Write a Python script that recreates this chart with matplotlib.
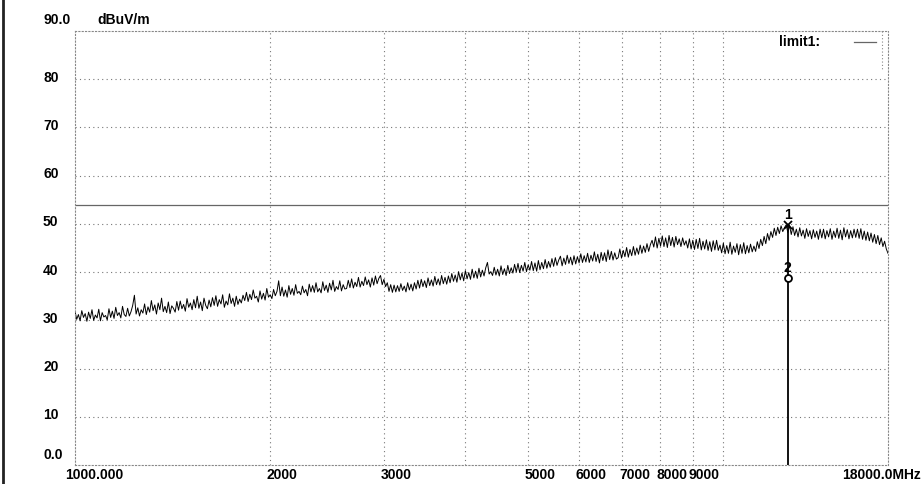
import numpy as np
import matplotlib
matplotlib.use("Agg")
import matplotlib.pyplot as plt
import matplotlib.transforms as mtransforms

# ---------------- data ----------------
f_start, f_stop = 1000.0, 18000.0
y_ticks = [10, 20, 30, 40, 50, 60, 70, 80]
y_tick_labels = ["10", "20", "30", "40", "50", "60", "70", "80"]
x_grid = [2000, 3000, 4000, 5000, 6000, 7000, 8000, 9000, 10000]
x_label_freqs = [2000, 3000, 5000, 6000, 7000, 8000, 9000]
x_label_texts = ["2000", "3000", "5000", "6000", "7000", "8000", "9000"]
limit_level = 54.0
marker1 = (12600.0, 49.8)
marker2 = (12600.0, 38.8)

trace_db = [
    31.9, 30.2, 31.2, 29.9, 32.0, 30.6, 31.4, 29.8, 31.7, 30.4, 32.2, 30.0, 31.1, 30.5, 32.3, 29.9, 31.6, 30.7, 31.0, 30.1,
    32.4, 30.6, 31.9, 30.4, 32.7, 31.0, 31.6, 30.5, 32.9, 31.2, 30.8, 32.5, 30.9, 31.8, 33.1, 35.2, 31.3, 32.6, 30.9, 32.2,
    31.5, 33.4, 31.2, 32.8, 31.7, 34.1, 32.0, 33.2, 31.3, 33.6, 32.2, 34.6, 31.8, 32.9, 31.6, 33.8, 31.4, 33.0, 32.5, 31.7,
    33.9, 32.1, 34.0, 32.4, 33.3, 31.9, 34.5, 32.7, 33.6, 32.2, 34.3, 32.6, 35.0, 32.5, 33.8, 32.0, 34.6, 33.1, 32.4, 34.2,
    32.8, 34.7, 33.1, 35.1, 32.9, 34.3, 33.4, 35.3, 32.7, 34.0, 33.2, 35.5, 33.5, 34.6, 32.9, 35.0, 33.3, 34.4, 33.6, 35.2,
    34.1, 35.8, 33.9, 35.4, 34.3, 36.3, 34.6, 35.0, 33.8, 36.1, 34.4, 35.6, 34.2, 36.6, 34.8, 35.3, 34.5, 36.4, 35.1, 36.0,
    38.2, 35.1, 36.9, 35.0, 36.3, 34.8, 37.2, 35.4, 36.6, 35.2, 37.4, 35.6, 36.0, 35.3, 37.1, 35.7, 36.4, 35.1, 37.5, 35.9,
    37.2, 35.8, 37.8, 35.9, 36.6, 35.7, 38.0, 36.2, 37.3, 35.8, 37.7, 36.3, 38.3, 36.0, 37.0, 36.4, 38.2, 36.1, 37.4, 36.5,
    36.6, 38.3, 36.8, 38.6, 36.7, 37.9, 37.0, 38.9, 36.9, 38.1, 37.2, 39.0, 37.4, 38.4, 36.9, 38.8, 37.3, 39.2, 37.6, 38.7,
    39.3, 37.4, 38.5, 37.0, 37.8, 36.0, 37.4, 35.8, 37.3, 35.9, 37.2, 36.0, 37.6, 36.2, 37.1, 35.9, 37.8, 36.3, 37.5, 36.1,
    37.8, 36.5, 38.3, 36.7, 38.5, 37.0, 38.2, 36.8, 38.8, 37.2, 38.4, 37.1, 39.1, 37.4, 38.6, 37.3, 39.3, 37.6, 38.9, 37.5,
    39.2, 37.8, 39.7, 38.1, 39.4, 37.9, 40.1, 38.4, 39.8, 38.2, 40.3, 38.6, 39.9, 38.5, 40.6, 38.8, 40.2, 38.7, 40.8, 39.0,
    40.4, 39.2, 40.9, 42.0, 39.6, 40.1, 39.3, 41.0, 39.4, 40.6, 39.2, 41.3, 39.5, 40.7, 39.3, 41.4, 39.7, 40.9, 39.8, 41.6,
    40.0, 41.8, 39.9, 41.4, 40.2, 42.0, 40.1, 41.5, 40.4, 42.2, 40.3, 41.9, 40.2, 42.4, 40.5, 42.0, 40.7, 42.6, 40.8, 42.2,
    41.0, 42.8, 41.2, 43.0, 41.4, 42.5, 43.3, 41.3, 42.9, 41.6, 43.5, 41.8, 43.1, 41.5, 43.4, 41.7, 43.2, 41.9, 43.8, 42.0,
    43.4, 42.1, 43.9, 42.0, 43.5, 42.3, 44.2, 42.2, 43.7, 41.9, 44.1, 42.4, 44.0, 42.2, 44.6, 42.6, 44.3, 42.5, 44.0, 42.7,
    43.0, 44.8, 42.9, 44.5, 43.2, 45.1, 43.1, 44.7, 43.4, 45.3, 43.5, 45.0, 43.7, 45.6, 43.9, 45.4, 44.1, 45.9, 44.3, 45.7,
    46.6, 45.2, 47.3, 45.0, 47.0, 45.4, 47.5, 45.3, 47.1, 45.1, 47.6, 45.5, 47.2, 45.2, 47.4, 45.7, 46.9, 45.3, 47.1, 45.6,
    46.5, 45.0, 46.9, 44.8, 46.6, 44.7, 46.8, 44.9, 47.0, 44.6, 46.4, 44.8, 46.7, 44.5, 46.3, 44.3, 46.5, 44.6, 46.6, 44.5,
    45.6, 44.0, 46.0, 43.8, 45.5, 43.9, 46.2, 43.7, 45.4, 44.1, 45.9, 43.6, 45.7, 43.9, 46.1, 43.8, 45.5, 44.0, 45.8, 44.2,
    45.4, 44.3, 46.3, 44.9, 46.8, 45.5, 47.4, 45.9, 48.0, 46.6, 48.4, 47.2, 49.1, 47.6, 49.3, 48.0, 49.6, 48.4, 49.2, 49.8,
    48.2, 49.7, 47.8, 49.4, 47.6, 48.9, 47.3, 49.2, 47.5, 48.7, 47.0, 49.0, 47.4, 48.6, 46.9, 48.8, 47.2, 48.5, 46.8, 48.9,
    47.1, 48.9, 46.9, 48.6, 47.3, 49.0, 46.8, 48.5, 47.2, 49.1, 47.0, 48.7, 46.7, 49.2, 47.3, 48.8, 46.9, 48.6, 47.1, 48.9,
    47.2, 48.9, 47.0, 49.0, 46.8, 48.5, 46.6, 48.3, 46.5, 48.1, 46.2, 47.8, 45.9, 47.6, 45.7, 47.1, 45.3, 46.4, 44.8, 43.9,
]
trace_f = np.geomspace(f_start, f_stop, len(trace_db))

# ---------------- figure ----------------
W, H = 923, 484
fig = plt.figure(figsize=(W / 100, H / 100), dpi=100)
fig.patch.set_facecolor("white")
ax = fig.add_axes([75 / W, (H - 465) / H, (888 - 75) / W, (465 - 31) / H])
ax.set_xscale("log")
ax.set_xlim(f_start, f_stop)
ax.set_ylim(0, 90)
ax.set_xticks([])
ax.set_yticks([])
ax.xaxis.set_minor_locator(matplotlib.ticker.NullLocator())

grid_kw = dict(color="#777777", lw=0.8, ls=(0, (1, 3)))
for spine in ax.spines.values():
    spine.set_linestyle((0, (1, 2)))
    spine.set_color("#888888")
    spine.set_linewidth(0.8)
for yv in y_ticks:
    ax.axhline(yv, **grid_kw)
for xv in x_grid:
    ax.axvline(xv, **grid_kw)

# limit line
ax.axhline(limit_level, color="#666666", lw=0.9)

# trace
ax.plot(trace_f, trace_db, color="black", lw=0.7)

# marker line and markers
ax.plot([marker1[0], marker1[0]], [0, marker1[1]], color="black", lw=1.3)
ax.plot([marker1[0]], [marker1[1]], marker="x", color="black", ms=6, mew=1.3)
ax.plot([marker2[0]], [marker2[1]], marker="o", mfc="white", mec="black", ms=5, mew=1.3)

font = dict(family=["Liberation Sans", "DejaVu Sans"], fontweight="bold", fontsize=10, color="black")
off_up = mtransforms.offset_copy(ax.transData, fig=fig, x=0, y=10, units="dots")
ax.text(marker1[0], marker1[1], "1", transform=off_up, ha="center", va="center", **font)
ax.text(marker2[0], marker2[1], "2", transform=off_up, ha="center", va="center", **font)

# y labels
ytr = mtransforms.blended_transform_factory(fig.transFigure, ax.transData)
for yv, lab in zip(y_ticks, y_tick_labels):
    ax.text(43 / W, yv + 0.3, lab, transform=ytr, ha="left", va="center", clip_on=False, **font)
fig.text(43 / W, (H - 455) / H, "0.0", ha="left", va="center", **font)
fig.text(43 / W, (H - 19.5) / H, "90.0", ha="left", va="center", **font)
fig.text(97 / W, (H - 19.5) / H, "dBuV/m", ha="left", va="center", **font)

# x labels (left-aligned just left of their grid line)
xtr = mtransforms.blended_transform_factory(ax.transData, fig.transFigure)
ly = (H - 475) / H
for xv, lab in zip(x_label_freqs, x_label_texts):
    shift = -5 if lab == "9000" else -3
    tr = mtransforms.offset_copy(xtr, fig=fig, x=shift, y=0, units="dots")
    ax.text(xv, ly, lab, transform=tr, ha="left", va="center", clip_on=False, **font)
fig.text(65 / W, ly, "1000.000", ha="left", va="center", **font)
fig.text(921 / W, ly, "18000.0MHz", ha="right", va="center", **font)

# legend
fig.text(779 / W, (H - 42) / H, "limit1:", ha="left", va="center", **font)
fig.add_artist(plt.Line2D([854 / W, 876 / W], [(H - 42) / H] * 2, color="#666666", lw=0.9))
fig.add_artist(plt.Line2D([882 / W, 882 / W], [(H - 31) / H, (H - 70) / H],
                          color="#888888", lw=0.8, ls=(0, (1, 2))))

# left border of the screenshot
fig.add_artist(plt.Line2D([2.5 / W, 2.5 / W], [0, 1], color="#222222", lw=2.0))

fig.savefig("out.png", dpi=100, facecolor="white")
